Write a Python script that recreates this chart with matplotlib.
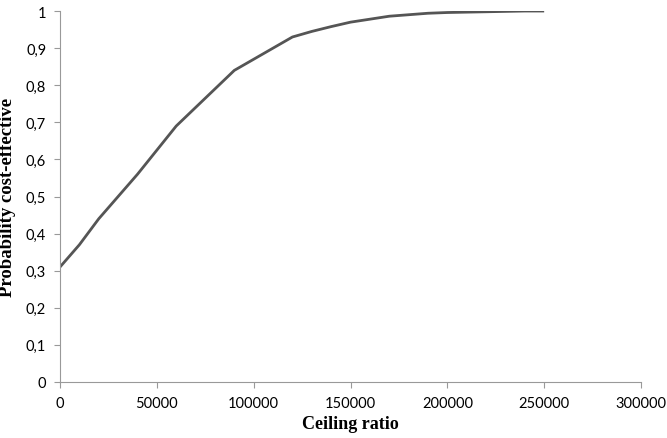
import numpy as np
import matplotlib
matplotlib.use("Agg")
import matplotlib.pyplot as plt

# ceiling ratio (x) and probability cost-effective (y)
ceiling = [0, 10000, 20000, 30000, 40000, 50000, 60000, 70000, 80000, 90000,
           100000, 110000, 120000, 130000, 140000, 150000, 160000, 170000,
           180000, 190000, 200000, 210000, 220000, 230000, 240000, 250000]
prob = [0.31, 0.37, 0.44, 0.50, 0.56, 0.625, 0.69, 0.74, 0.79, 0.84,
        0.87, 0.90, 0.93, 0.945, 0.958, 0.97, 0.978, 0.986,
        0.99, 0.994, 0.996, 0.997, 0.998, 0.999, 1.0, 1.0]

xticks = [0, 50000, 100000, 150000, 200000, 250000, 300000]
yticks = [0, 0.1, 0.2, 0.3, 0.4, 0.5, 0.6, 0.7, 0.8, 0.9, 1.0]
ylabels = ['0', '0,1', '0,2', '0,3', '0,4', '0,5', '0,6', '0,7', '0,8', '0,9', '1']

fig = plt.figure(figsize=(6.67, 4.39), dpi=100)
ax = fig.add_axes([0.09, 0.1276, 0.871, 0.845])

ax.plot(ceiling, prob, color='#555555', linewidth=2.0, solid_capstyle='butt')

ax.set_xlim(0, 300000)
ax.set_ylim(0, 1)
ax.set_xticks(xticks)
ax.set_xticklabels([str(t) for t in xticks])
ax.set_yticks(yticks)
ax.set_yticklabels(ylabels)

for s in ['top', 'right']:
    ax.spines[s].set_visible(False)
for s in ['left', 'bottom']:
    ax.spines[s].set_color('#999999')
    ax.spines[s].set_linewidth(0.8)

ax.tick_params(axis='both', colors='#999999', length=4, width=0.8,
               labelcolor='black', labelsize=10.5)
for lab in ax.get_xticklabels() + ax.get_yticklabels():
    lab.set_family('Lato')
ax.tick_params(axis='x', pad=6)
ax.tick_params(axis='y', pad=6)

ax.set_xlabel('Ceiling ratio', family='Liberation Serif', fontweight='bold',
              fontsize=13, labelpad=4)
ax.set_ylabel('Probability cost-effective', family='Liberation Serif',
              fontweight='bold', fontsize=13.5, labelpad=7)

fig.savefig('out.png', dpi=100)
